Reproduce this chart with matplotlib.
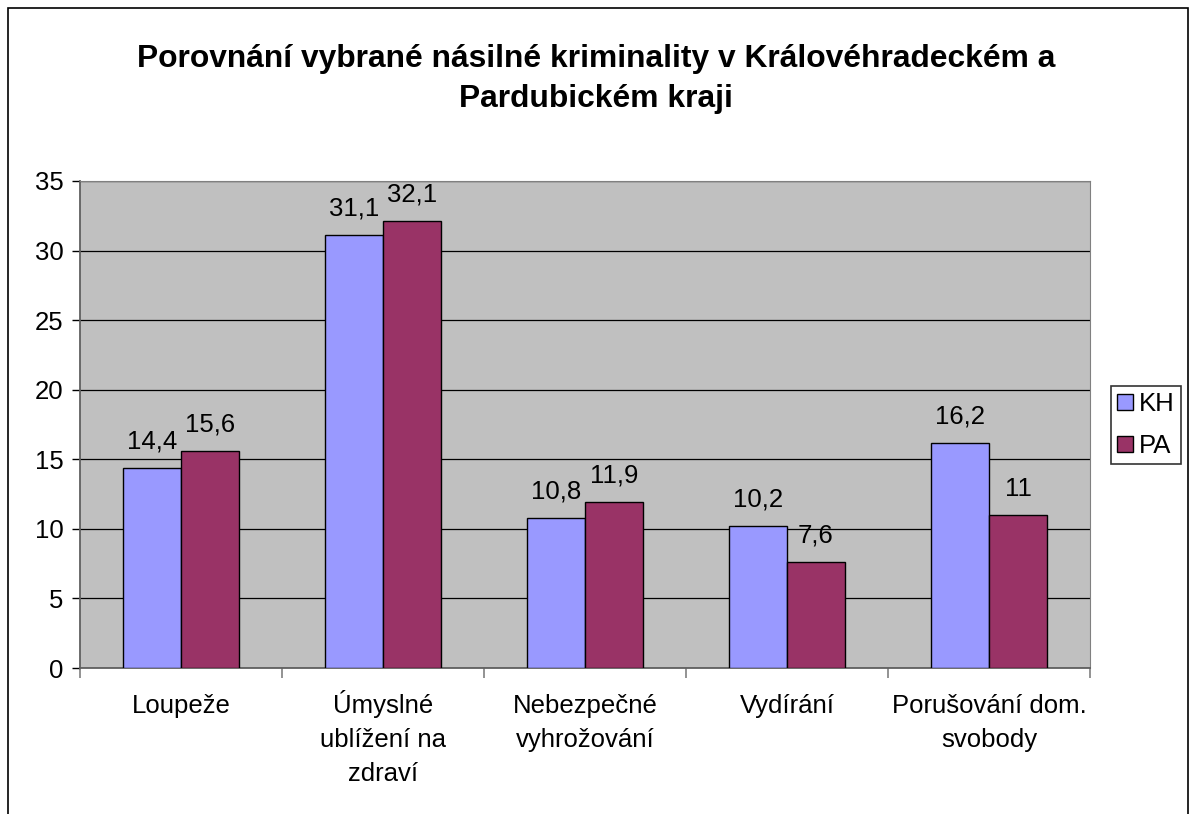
import numpy as np
import matplotlib.pyplot as plt
from matplotlib.patches import Rectangle
from matplotlib.transforms import offset_copy

plt.rcParams['font.family'] = ['Liberation Sans', 'DejaVu Sans']

categories = ["Loupeže", "Úmyslné\nublížení na\nzdraví", "Nebezpečné\nvyhrožování",
              "Vydírání", "Porušování dom.\nsvobody"]
kh_values = [14.4, 31.1, 10.8, 10.2, 16.2]
pa_values = [15.6, 32.1, 11.9, 7.6, 11]
series_names = ["KH", "PA"]

W, H = 1192, 814
fs = 18.5
fig = plt.figure(figsize=(W / 100, H / 100), dpi=100)

# outer chart frame (bottom edge is cut off in the original)
fig.patches.append(Rectangle((8 / W, -0.01), (1188 - 8) / W, 1 - 8 / H + 0.01,
                             transform=fig.transFigure, fill=False,
                             edgecolor='black', linewidth=1.2))

ax = fig.add_axes([80 / W, 1 - 668 / H, (1090 - 80) / W, (668 - 181) / H])
ax.set_facecolor('#C0C0C0')

x = np.arange(len(categories))
bw = 0.287
b1 = ax.bar(x - bw / 2, kh_values, bw, color='#9999FF', edgecolor='black',
            linewidth=1, label=series_names[0], zorder=3)
b2 = ax.bar(x + bw / 2, pa_values, bw, color='#993366', edgecolor='black',
            linewidth=1, label=series_names[1], zorder=3)

for bars, vals in ((b1, kh_values), (b2, pa_values)):
    for rect, v in zip(bars, vals):
        ax.text(rect.get_x() + rect.get_width() / 2, v + 1.9,
                f"{v:g}".replace('.', ','), ha='center', va='center', fontsize=fs)

ax.set_xlim(-0.5, len(categories) - 0.5)
ax.set_ylim(0, 35)
ax.set_yticks(range(0, 36, 5))
ax.yaxis.grid(True, color='black', linewidth=0.9, zorder=1)
ax.set_axisbelow(True)

ax.set_xticks(np.arange(-0.5, len(categories), 1))
ax.set_xticklabels([])
ax.tick_params(axis='x', which='major', length=7, color='#808080', width=1.2)
ax.tick_params(axis='y', labelsize=fs, length=6, width=1, pad=6)

# category labels: each line on its own baseline, like the original
xtrans = ax.get_xaxis_transform()
for xi, label in zip(x, categories):
    for i, line in enumerate(label.split('\n')):
        tr = offset_copy(xtrans, fig=fig, y=-(45 + 34 * i), units='dots')
        ax.text(xi, 0, line, transform=tr, ha='center', va='baseline',
                fontsize=fs, clip_on=False)

for side in ['top', 'right']:
    ax.spines[side].set_color('#808080')
for side in ['left', 'bottom']:
    ax.spines[side].set_color('#606060')
    ax.spines[side].set_linewidth(1.3)

fig.text(0.5, 1 - 79 / H, "Porovnání vybrané násilné kriminality v Královéhradeckém a\nPardubickém kraji",
         ha='center', va='center', fontsize=22.9, fontweight='bold', linespacing=1.43)

leg = fig.legend(handles=[b1, b2], labels=series_names, loc='center',
                 bbox_to_anchor=(1146 / W, 1 - 425 / H), fontsize=fs,
                 frameon=True, fancybox=False, edgecolor='black',
                 handlelength=0.62, handleheight=0.62, handletextpad=0.25,
                 labelspacing=0.7, borderpad=0.25, borderaxespad=0)
leg.get_frame().set_linewidth(1.2)

fig.savefig('out.png', dpi=100)
